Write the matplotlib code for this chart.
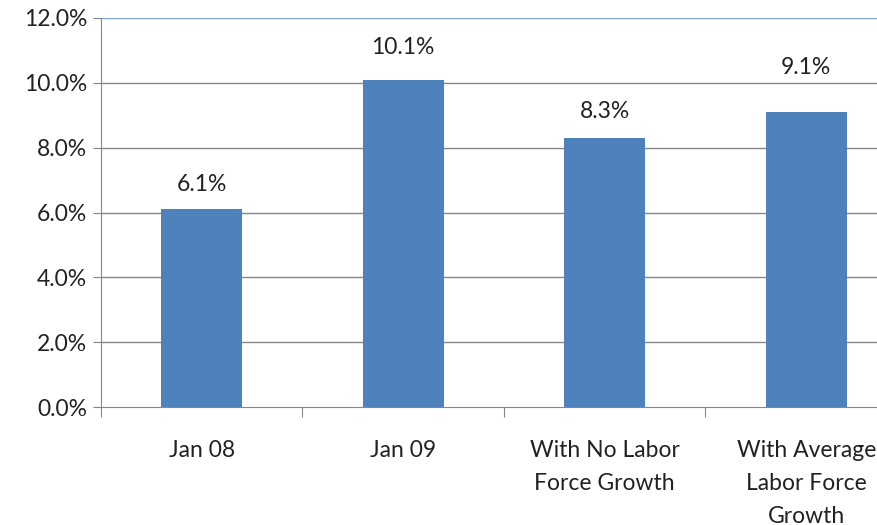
import matplotlib.pyplot as plt
from matplotlib.ticker import FuncFormatter

# Unemployment rate by scenario
categories = ["Jan 08", "Jan 09", "With No Labor\nForce Growth", "With Average\nLabor Force\nGrowth"]
rates = [6.1, 10.1, 8.3, 9.1]
y_ticks = [0, 2, 4, 6, 8, 10, 12]

bar_color = "#4F81BD"
grid_color = "#868686"
text_color = "#222222"
# gap between each bar top and its value label, in pixels
label_gap_px = [25, 32, 26, 45]
plt.rcParams["font.family"] = ["Lato", "DejaVu Sans"]

fig = plt.figure(figsize=(8.78, 5.25), dpi=100)
ax = fig.add_axes([101 / 878, 1 - 407 / 525, 777 / 878, 389 / 525])

x = range(len(categories))
bars = ax.bar(x, rates, width=0.40, color=bar_color, zorder=3)

for b, v, gap in zip(bars, rates, label_gap_px):
    ax.annotate(f"{v:.1f}%", (b.get_x() + b.get_width() / 2, v),
                xytext=(0, gap * 0.72), textcoords="offset points",
                ha="center", va="center", fontsize=16.5, color=text_color)

for t in y_ticks[1:]:
    ax.axhline(t, color="#7da3d0" if t == 12 else grid_color, lw=1, zorder=1)

ax.set_yticks(y_ticks)
ax.yaxis.set_major_formatter(FuncFormatter(lambda v, _: f"{v:.1f}%"))

# category labels between boundary ticks
ax.set_xticks([i + 0.5 for i in range(-1, len(categories))])
ax.set_xticklabels([])
ax.set_xticks(list(x), minor=True)
ax.set_xticklabels(categories, minor=True, fontsize=16.5, color=text_color,
                   linespacing=1.7, va="top")
ax.tick_params(axis="x", which="minor", length=0, pad=24)
ax.tick_params(axis="x", which="major", length=7, color=grid_color, direction="out")
ax.tick_params(axis="y", length=6, color=grid_color, direction="out",
               labelsize=16.5, labelcolor=text_color, pad=4)
for lbl in ax.get_xticklabels(minor=True):
    lbl.set_clip_on(False)

# the last category runs past the right edge
ax.set_ylim(0, 12)
ax.set_xlim(-0.5, -0.5 + 777 / 201.5)

for side in ["top", "right"]:
    ax.spines[side].set_visible(False)
for side in ["left", "bottom"]:
    ax.spines[side].set_color(grid_color)

fig.savefig("out.png", dpi=100)
